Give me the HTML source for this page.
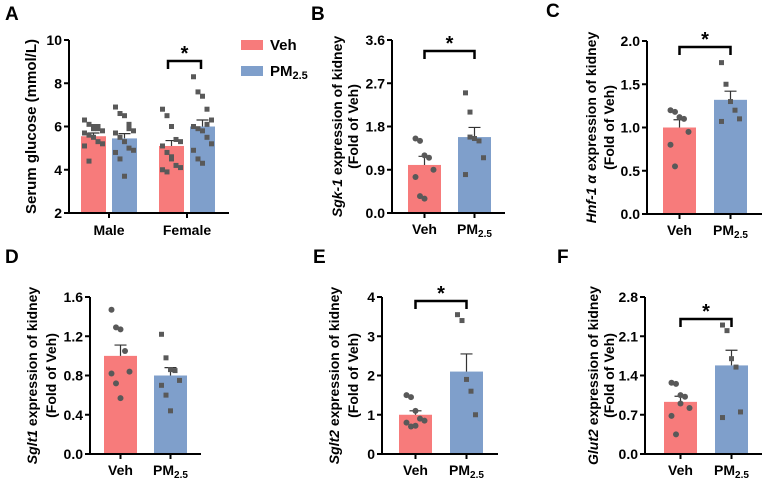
<!DOCTYPE html>
<html><head><meta charset="utf-8">
<style>
body{margin:0;background:#fff;}
svg{display:block;font-family:"Liberation Sans",Arial,sans-serif;font-weight:bold;}
</style></head>
<body>
<svg id="fig" width="767" height="488" viewBox="0 0 767 488" xmlns="http://www.w3.org/2000/svg"></svg>
<script>
// ---- Panel A data ----
const aGroups = ["Male", "Female"];
const aVehMeans = [5.55, 5.1];
const aVehSem = [0.15, 0.25];
const aPmMeans = [5.45, 6.0];
const aPmSem = [0.22, 0.3];
const aVehPoints = [[6.3,6.1,6.0,5.9,5.8,5.7,5.6,5.5,5.3,5.2,5.1,4.4,5.9,6.0],[6.8,6.5,6.0,5.4,5.3,5.1,4.8,4.5,4.2,4.1,4.0,3.9,4.6]];
const aPmPoints = [[6.9,6.6,6.5,6.1,5.8,5.7,5.5,5.3,5.0,4.9,4.8,4.5,3.7,5.9],[8.3,7.6,7.4,6.8,6.3,6.0,5.9,5.8,5.5,5.2,4.9,4.5,4.3,6.1]];
const aTicks = [2,4,6,8,10];
// ---- Panels B-F data ----
const bMeans = [1.0, 1.58]; const bSem = [0.18, 0.2];
const bVeh = [1.55,1.5,1.2,1.15,0.9,0.75,0.35,0.3]; const bPm = [2.5,2.1,1.55,1.5,1.15,0.8,1.58];
const bTicks = ["0.0","0.9","1.8","2.7","3.6"];
const cMeans = [1.0, 1.32]; const cSem = [0.09, 0.1];
const cVeh = [1.2,1.18,1.12,1.1,0.95,0.8,0.55]; const cPm = [1.75,1.5,1.3,1.2,1.1,1.07];
const cTicks = ["0.0","0.5","1.0","1.5","2.0"];
const dMeans = [1.0, 0.8]; const dSem = [0.11, 0.08];
const dVeh = [1.47,1.29,1.27,1.05,0.84,0.82,0.72,0.57]; const dPm = [1.22,0.98,0.86,0.85,0.75,0.7,0.6,0.44];
const dTicks = ["0.0","0.4","0.8","1.2","1.6"];
const eMeans = [1.0, 2.1]; const eSem = [0.1, 0.45];
const eVeh = [1.5,1.45,1.1,0.9,0.85,0.8,0.7,0.72]; const ePm = [3.55,3.4,1.9,1.6,1.0];
const eTicks = ["0","1","2","3","4"];
const fMeans = [0.93, 1.58]; const fSem = [0.1, 0.27];
const fVeh = [1.27,1.25,1.05,1.02,0.82,0.68,0.35,0.9]; const fPm = [2.3,2.2,1.7,1.55,0.75,0.65];
const fTicks = ["0.0","0.7","1.4","2.1","2.8"];

const NS = "http://www.w3.org/2000/svg";
const svg = document.getElementById("fig");
const VEH = "#f77b7b", PM = "#7f9fcb", DOT = "#595959";
const FS = 14;
function mk(tag, attrs, parent){const e=document.createElementNS(NS,tag);for(const k in attrs)e.setAttribute(k,attrs[k]);(parent||svg).appendChild(e);return e;}
function txt(x,y,s,size,anchor,parent){const t=mk("text",{x:x,y:y,"font-size":size,"text-anchor":anchor||"middle",fill:"#000"},parent);t.textContent=s;return t;}

function dots(g, pts, cx, yS, square){
  pts.forEach((v,i)=>{
    const off=((i%5)-2)*4.5;
    let d;
    if(square){d=mk("rect",{x:cx+off-2.5,y:yS(v)-2.5,width:5,height:5,fill:DOT},g);}
    else{d=mk("circle",{cx:cx+off,cy:yS(v),r:3,fill:DOT},g);}
    
    
  });
}
function bar(g,x0,x1,mean,sem,yS,color,y0){
  const b=mk("rect",{x:x0,y:yS(mean),width:x1-x0,height:y0-yS(mean),fill:color},g);
  
  
  const cx=(x0+x1)/2;
  const e=mk("path",{d:`M${cx},${yS(mean)} V${yS(mean+sem)} M${cx-6},${yS(mean+sem)} H${cx+6}`,stroke:"#333","stroke-width":1.2,fill:"none"},g);
  
  
}
function bracket(g,x0,x1,y){
  const p=mk("path",{d:`M${x0},${y+8} V${y} H${x1} V${y+8}`,stroke:"#000","stroke-width":2.5,fill:"none"},g);
  
  
  const s=txt((x0+x1)/2,y-1,"*",20,"middle",g);
  
  
}
function yAxis(g,ax,yTop,yBot,ticks){
  const n=ticks.length-1;
  mk("line",{x1:ax,y1:yTop,x2:ax,y2:yBot,stroke:"#000","stroke-width":2},g);
  ticks.forEach((t,i)=>{const y=yBot-(yBot-yTop)*i/n;
    mk("line",{x1:ax-5,y1:y,x2:ax,y2:y,stroke:"#000","stroke-width":2},g);
    const l=txt(ax-7,y+5,t,FS,"end",g);
    
    
  });
}
function pmLabel(g,x,y){
  const t=mk("text",{x:x,y:y,"font-size":FS,"text-anchor":"middle"},g);
  t.innerHTML='PM<tspan font-size="10" dy="3">2.5</tspan>';
  return t;
}
function small(name,letter,lx,ly,ax,yTop,yBot,axEnd,vx,px,means,sem,veh,pm,ticks,brY,italic,rest,t1x,t2x){
  const g=mk("g",{});
  
  
  const L=txt(lx,ly,letter,19,"start",g);
  
  
  const max=parseFloat(ticks[ticks.length-1]);
  const yS=v=>yBot-(yBot-yTop)*v/max;
  bar(g,vx,vx+33,means[0],sem[0],yS,VEH,yBot);
  bar(g,px,px+33,means[1],sem[1],yS,PM,yBot);
  dots(g,veh,vx+16.5,yS,false);
  dots(g,pm,px+16.5,yS,true);
  yAxis(g,ax,yTop,yBot,ticks);
  mk("line",{x1:ax-1,y1:yBot,x2:axEnd,y2:yBot,stroke:"#000","stroke-width":2},g);
  [vx+16.5,px+16.5].forEach(x=>mk("line",{x1:x,y1:yBot,x2:x,y2:yBot+5,stroke:"#000","stroke-width":2},g));
  const v=txt(vx+16.5,yBot+21,"Veh",FS,"middle",g);
  
  
  const p=pmLabel(g,px+16.5,yBot+21);
  
  
  if(brY!==null) bracket(g,vx+16.5,px+16.5,brY);
  const cy=(yTop+yBot)/2;
  const t1=mk("text",{x:0,y:0,"font-size":FS,"text-anchor":"middle",transform:`translate(${t1x},${cy}) rotate(-90)`},g);
  t1.innerHTML=`<tspan font-style="italic">${italic}</tspan>${rest}`;
  
  
  const t2=txt(0,0,"(Fold of Veh)",FS,"middle",g);
  t2.setAttribute("transform",`translate(${t2x},${cy}) rotate(-90)`);
  
  
}

// Panel A
(function(){
  const g=mk("g",{});
  
  
  const L=txt(5,20,"A",19,"start",g);
  
  
  const yTop=40,yBot=213,ax=69;
  const yS=v=>yBot-(yBot-yTop)*(v-2)/8;
  const vehX=[81,159], pmX=[112,190];
  aGroups.forEach((gn,i)=>{
    bar(g,vehX[i],vehX[i]+25,aVehMeans[i],aVehSem[i],yS,VEH,yBot);
    bar(g,pmX[i],pmX[i]+25,aPmMeans[i],aPmSem[i],yS,PM,yBot);
    dots(g,aVehPoints[i],vehX[i]+12.5,yS,true);
    dots(g,aPmPoints[i],pmX[i]+12.5,yS,true);
    const cx=(vehX[i]+pmX[i]+25)/2;
    mk("line",{x1:cx,y1:yBot,x2:cx,y2:yBot+5,stroke:"#000","stroke-width":2},g);
    const l=txt(cx,yBot+22,gn,FS,"middle",g);
    
    
  });
  yAxis(g,ax,yTop,yBot,aTicks.map(String));
  mk("line",{x1:ax-1,y1:yBot,x2:229,y2:yBot,stroke:"#000","stroke-width":2},g);
  bracket(g,168,201,61);
  const t=txt(0,0,"Serum glucose (mmol/L)",15,"middle",g);
  t.setAttribute("transform",`translate(36,${(yTop+yBot)/2}) rotate(-90)`);
  
  
  // legend
  const lg=mk("g",{},g);
  
  
  mk("rect",{x:241,y:40,width:22,height:10,fill:VEH},lg);
  txt(270,50,"Veh",15,"start",lg);
  mk("rect",{x:241,y:66,width:22,height:10,fill:PM},lg);
  const pt=mk("text",{x:270,y:76,"font-size":15},lg);
  pt.innerHTML='PM<tspan font-size="11" dy="3">2.5</tspan>';
})();

small("panel-b","B",311,20,392,40,213,505,408,458,bMeans,bSem,bVeh,bPm,bTicks,51,"Sgk-1"," expression of kidney",342,358);
small("panel-c","C",546,17,647,41,214,762,663,714,cMeans,cSem,cVeh,cPm,cTicks,47,"Hnf-1 α"," expression of kidney",596,614);
small("panel-d","D",5,263,90,297,454,201,104,154,dMeans,dSem,dVeh,dPm,dTicks,null,"Sglt1"," expression of kidney",37,56);
small("panel-e","E",313,263,382,297,454,498,399,450,eMeans,eSem,eVeh,ePm,eTicks,301,"Sglt2"," expression of kidney",339,358);
small("panel-f","F",557,263,645,297,454,762,664,715,fMeans,fSem,fVeh,fPm,fTicks,319,"Glut2"," expression of kidney",598,614);
</script>
</body></html>
